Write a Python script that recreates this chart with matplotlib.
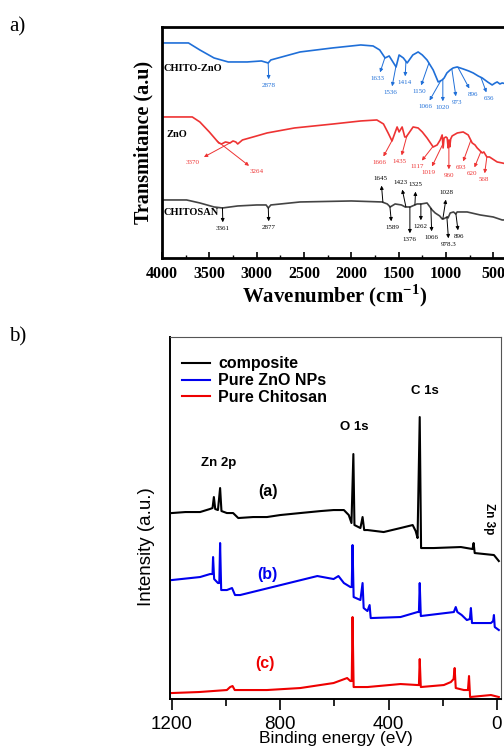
import numpy as np
import matplotlib
matplotlib.use("Agg")
import matplotlib.pyplot as plt

plt.rcParams['mathtext.fontset'] = 'custom'
plt.rcParams['mathtext.rm'] = 'Liberation Serif'
plt.rcParams['mathtext.bf'] = 'Liberation Serif:bold'

# ---------------- a) FTIR spectra (arbitrary transmittance units) ----------------
wn_cz = [4000, 3720, 3600, 3450, 3300, 3100, 2950, 2878, 2850, 2541, 2200, 1900, 1770, 1700,
         1643, 1600, 1527, 1495, 1450, 1410, 1350, 1294, 1250, 1200, 1135, 1082, 1060, 1040,
         1019, 990, 955, 924, 882, 850, 818, 760, 712, 660, 617, 560, 512, 480, 459, 430, 406, 360]
t_cz = [215, 215, 208, 200, 196, 196, 197, 195, 198, 206, 210, 213, 212, 208,
        200, 202, 191, 203, 200, 195, 203, 206, 203, 198, 188, 176, 177, 178,
        180, 185, 188, 190, 191, 190, 189, 187, 185, 182, 180, 176, 173, 175, 176, 174, 175, 174]

wn_zno = [4000, 3680, 3600, 3500, 3400, 3370, 3330, 3281, 3250, 3220, 3200, 3150, 3000, 2890,
          2600, 2190, 1900, 1730, 1660, 1611, 1570, 1516, 1495, 1463, 1435, 1420, 1347, 1294,
          1250, 1200, 1135, 1093, 1061, 1040, 1030, 1020, 1000, 987, 977, 968, 960, 950, 935,
          880, 818, 765, 723, 693, 670, 617, 600, 568, 540, 459, 406, 360]
t_zno = [141, 141, 136, 126, 115, 114, 116, 115, 117, 116, 114, 118, 122, 125,
         130, 134, 137, 138, 134, 125, 117, 131, 126, 131, 121, 121, 131, 130,
         126, 120, 111, 113, 118, 123, 110, 120, 121, 120, 110, 118, 111, 119, 122,
         125, 126, 123, 115, 113, 110, 105, 106, 101, 101, 96, 95, 94]

wn_chs = [4000, 3740, 3600, 3450, 3361, 3200, 3000, 2900, 2877, 2850, 2541, 2000, 1675, 1620,
          1589, 1537, 1470, 1431, 1378, 1305, 1262, 1200, 1146, 1114, 1066, 1040, 1028, 987,
          978, 955, 920, 896, 882, 776, 638, 501, 406, 360]
t_chs = [58, 58, 55, 51, 50, 52, 53, 53, 50, 53, 56, 57, 56, 54,
         51, 54, 53, 51, 51, 54, 54, 55, 48, 45, 42, 39, 39, 41,
         40, 45, 46, 44, 46, 46, 43, 41, 38, 38]

# (label, peak position on curve, label x, label y)
peaks_cz = [("2878", 2878, 2870, 172), ("1633", 1645, 1719, 179), ("1536", 1529, 1582, 165),
            ("1414", 1423, 1434, 175), ("1150", 1180, 1286, 166), ("1066", 1054, 1212, 151),
            ("1020", 1033, 1033, 150), ("973", 938, 885, 155), ("896", 874, 716, 163),
            ("636", 631, 547, 159)]
peaks_zno = [("3370", 3282, 3673, 95), ("3264", 3419, 2997, 86), ("1666", 1571, 1698, 95),
             ("1435", 1413, 1487, 96), ("1117", 1138, 1307, 91), ("1019", 1033, 1181, 85),
             ("960", 969, 969, 82), ("693", 737, 843, 90), ("620", 631, 727, 84),
             ("568", 568, 600, 78)]
peaks_chs = [("3361", 3361, 3356, 29), ("2877", 2877, 2870, 30), ("1645", 1666, 1687, 79),
             ("1589", 1592, 1571, 30), ("1423", 1423, 1476, 75), ("1376", 1381, 1381, 18),
             ("1325", 1328, 1318, 73), ("1262", 1265, 1265, 31), ("1066", 1159, 1149, 20),
             ("1028", 1033, 990, 65), ("978.3", 990, 969, 13), ("896", 895, 864, 21)]

# ---------------- b) XPS survey spectra ----------------
be_comp = [1200, 1150, 1096, 1060, 1050, 1045, 1040, 1030, 1022, 1017, 997, 974, 955, 900, 849,
           800, 726, 650, 603, 565, 547, 537, 530, 526, 504, 496, 490, 478, 418, 356, 311, 300,
           293, 285, 280, 233, 133, 90, 86, 82, 11, -7]
i_comp = [186, 187, 187, 190, 191, 202, 190, 189, 211, 188, 186, 186, 181, 182, 182,
          184, 186, 188, 189, 189, 184, 176, 245, 174, 171, 182, 169, 169, 167, 171, 174, 168,
          161, 282, 151, 151, 152, 150, 156, 146, 144, 138]

be_zno = [1200, 1096, 1059, 1050, 1048, 1044, 1030, 1025, 1022, 1018, 997, 978, 967, 948, 663,
          603, 585, 565, 541, 536, 533, 529, 504, 496, 492, 478, 470, 466, 463, 356, 293, 288,
          285, 281, 159, 152, 146, 130, 111, 100, 96, 92, 22, 14, 11, 8, -7]
i_zno = [119, 122, 125, 125, 142, 120, 116, 116, 156, 109, 109, 111, 104, 104, 123,
         120, 123, 116, 112, 112, 154, 102, 99, 116, 91, 88, 94, 81, 81, 82, 87, 87,
         116, 83, 87, 92, 87, 84, 79, 80, 91, 76, 76, 78, 84, 72, 69]

be_chs = [1200, 1100, 997, 985, 976, 968, 849, 726, 603, 553, 541, 536, 533, 529, 478, 356, 293,
          288, 285, 281, 196, 170, 160, 156, 152, 122, 107, 103, 99, 22, -7]
i_chs = [6, 7, 9, 12, 13, 9, 9, 11, 16, 21, 18, 18, 82, 12, 12, 15, 14,
         14, 40, 12, 14, 17, 20, 31, 11, 9, 9, 23, 2, 4, 2]

xps_labels = ["composite", "Pure ZnO NPs", "Pure Chitosan"]

fig = plt.figure(figsize=(5.04, 7.51), dpi=100)
serif = "Liberation Serif"
sans = "Liberation Sans"

# ---- panel a ----
ax1 = fig.add_axes([0.3214, 0.6565, 0.684, 0.3076])
c_blue, c_red, c_grey = "#1f6fd8", "#ee3333", "#444444"
ax1.plot(wn_cz, t_cz, color=c_blue, lw=1.2)
ax1.plot(wn_zno, t_zno, color=c_red, lw=1.2)
ax1.plot(wn_chs, t_chs, color=c_grey, lw=1.2)
ax1.set_xlim(4000, 358)
ax1.set_ylim(0, 231)
ax1.set_yticks([])
ax1.set_xticks([4000, 3500, 3000, 2500, 2000, 1500, 1000, 500])
ax1.set_xticks([3750, 3250, 2750, 2250, 1750, 1250, 750], minor=True)
ax1.tick_params(axis='x', which='major', direction='in', length=4, pad=6, width=1.2)
ax1.tick_params(axis='x', which='minor', direction='in', length=2.5, width=1)
for lab in ax1.get_xticklabels():
    lab.set_fontfamily(serif)
    lab.set_fontweight('bold')
    lab.set_fontsize(11.5)
for sp in ax1.spines.values():
    sp.set_linewidth(2)
ax1.set_xlabel(r'Wavenumber (cm$^{\mathbf{-1}}$)', fontfamily=serif, fontweight='bold',
               fontsize=15, labelpad=0)
ax1.set_ylabel('Transmitance (a.u)', fontfamily=serif, fontweight='bold', fontsize=14.5,
               labelpad=6)

for name, y in [("CHITO-ZnO", 189), ("ZnO", 123), ("CHITOSAN", 45)]:
    ax1.text(3985 if name != "ZnO" else 3950, y, name, fontfamily=serif, fontweight='bold',
             fontsize=7.5, va='center', ha='left')

for peaks, wns, ts, col in [(peaks_cz, wn_cz, t_cz, c_blue), (peaks_zno, wn_zno, t_zno, c_red),
                            (peaks_chs, wn_chs, t_chs, "black")]:
    for lab, pk, tx, ty in peaks:
        yc = np.interp(pk, wns[::-1], ts[::-1])
        ax1.annotate(lab, xy=(pk, yc), xytext=(tx, ty), color=col, fontsize=5,
                     fontfamily=serif, ha='center', va='center',
                     arrowprops=dict(arrowstyle='<|-', color=col, lw=0.7,
                                     mutation_scale=5, shrinkA=1, shrinkB=0))

fig.text(0.018, 0.964, "a)", fontfamily=serif, fontsize=15, va='center')
fig.text(0.018, 0.551, "b)", fontfamily=serif, fontsize=15, va='center')

# ---- panel b ----
ax2 = fig.add_axes([0.3373, 0.0692, 0.6567, 0.482])
ax2.plot(be_comp, i_comp, color="black", lw=1.5, label=xps_labels[0])
ax2.plot(be_zno, i_zno, color="#0000ee", lw=1.5, label=xps_labels[1])
ax2.plot(be_chs, i_chs, color="#ee0000", lw=1.5, label=xps_labels[2])
ax2.set_xlim(1207, -15)
ax2.set_ylim(0, 362)
ax2.set_yticks([])
ax2.set_xticks([1200, 800, 400, 0])
ax2.set_xticks([1000, 600, 200], minor=True)
ax2.tick_params(axis='x', which='major', direction='out', length=8, width=1.2,
                labelsize=13.5, pad=4)
ax2.tick_params(axis='x', which='minor', direction='out', length=5, width=1.2)
for lab in ax2.get_xticklabels():
    lab.set_fontfamily(sans)
ax2.spines['left'].set_linewidth(1.4)
ax2.spines['bottom'].set_linewidth(1.4)
ax2.spines['top'].set_color('#555555')
ax2.spines['right'].set_color('#555555')
ax2.set_xlabel('Binding energy (eV)', fontfamily=sans, fontsize=12.5, labelpad=-1)
ax2.set_ylabel('Intensity (a.u.)', fontfamily=sans, fontsize=13.5)
ax2.yaxis.set_label_coords(-0.045, 0.42)

leg = ax2.legend(loc='upper left', bbox_to_anchor=(0.035, 0.947), frameon=False,
                 borderpad=0, borderaxespad=0, handlelength=1.8, handletextpad=0.5,
                 labelspacing=0.12, prop=dict(family=sans, weight='bold', size=11.5))

for txt, x, y, col, fs in [("Zn 2p", 1026, 236, "black", 9.5), ("O 1s", 526, 272, "black", 9.5),
                           ("C 1s", 267, 308, "black", 9.5), ("(a)", 844, 208, "black", 11.5),
                           ("(b)", 848, 125, "#0000ee", 11.5), ("(c)", 856, 36, "#ee0000", 11.5)]:
    ax2.text(x, y, txt, color=col, fontsize=fs, fontweight='bold', fontfamily=sans,
             ha='center', va='center')
ax2.text(30, 180, "Zn 3p", rotation=270, fontsize=8.5, fontweight='bold', fontfamily=sans,
         ha='center', va='center')

fig.savefig("out.png", dpi=100)
